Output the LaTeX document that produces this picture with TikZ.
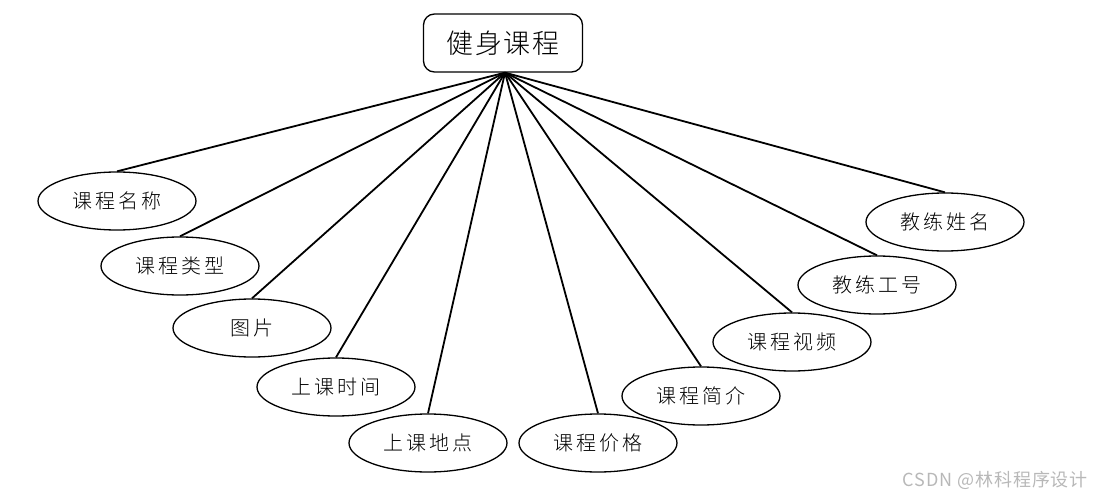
\documentclass[tikz,border=0pt]{standalone}
\usepackage{fontspec}
\newfontfamily\cjk[LetterSpace=14]{Noto Sans CJK SC Light}
\newfontfamily\cjkt[LetterSpace=6]{Noto Sans CJK SC Light}
\newfontfamily\cjkm[LetterSpace=5]{Noto Sans CJK SC}
\usetikzlibrary{shapes.geometric}
\tikzset{
  attr/.style={ellipse, draw, line width=1.3pt, minimum width=158pt, minimum height=58pt, inner sep=0pt, font=\cjk\fontsize{20}{24}\selectfont},
  entity/.style={draw, rounded corners=11pt, line width=1.3pt, minimum width=159pt, minimum height=58pt, inner sep=0pt, font=\cjkt\fontsize{27}{30}\selectfont},
  conn/.style={line width=1.8pt},
  wmark/.style={font=\cjkm\fontsize{18}{20}\selectfont, text=black!28, anchor=east, inner sep=0pt}
}
\begin{document}
\begin{tikzpicture}[x=1pt,y=-1pt]
\useasboundingbox (0,0) rectangle (1093,495);
\node[entity] (top) at (503,43) {健身课程};
\node[attr] (a1) at (117,201) {课程名称};
\node[attr] (a2) at (180,266) {课程类型};
\node[attr] (a3) at (252,328) {图片};
\node[attr] (a4) at (336,387) {上课时间};
\node[attr] (a5) at (428,443) {上课地点};
\node[attr] (a6) at (598,443) {课程价格};
\node[attr] (a7) at (701,396) {课程简介};
\node[attr] (a8) at (792,342) {课程视频};
\node[attr] (a9) at (877,285) {教练工号};
\node[attr] (a10) at (945,222) {教练姓名};
\foreach \n in {a1,a2,a3,a4,a5,a6,a7,a8,a9,a10}
  \draw[conn] ([xshift=2pt]top.south) -- (\n.north);
\node[wmark] (wm) at (1088,480) {CSDN @林科程序设计};
\end{tikzpicture}
\end{document}
